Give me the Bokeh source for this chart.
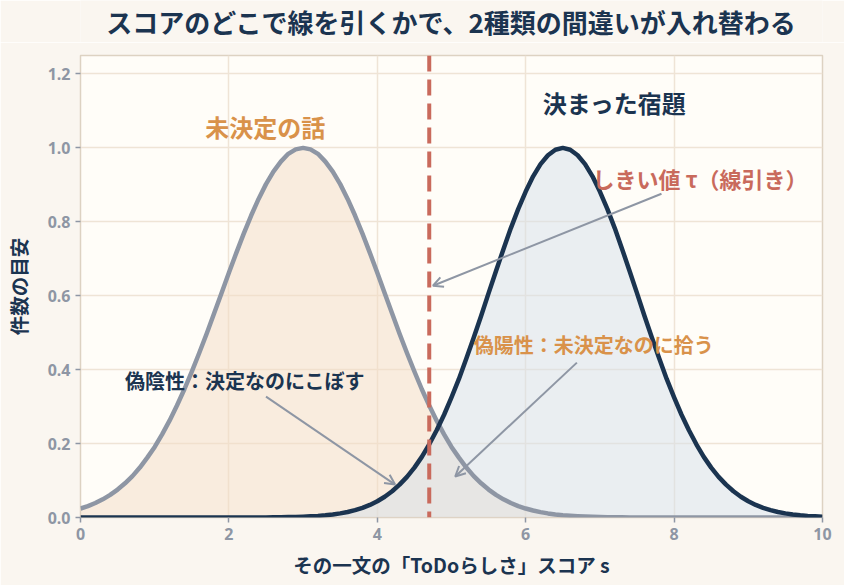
from bokeh.plotting import figure
from bokeh.layouts import column
from bokeh.models import Span, Label, Arrow, OpenHead, Range1d, FixedTicker, CustomJSTickFormatter
from bokeh.embed import file_html
from bokeh.resources import INLINE

# ---- data ----
score = [round(0.1 * i, 1) for i in range(101)]   # x positions 0.0 ... 10.0
undecided = [  # "未決定の話" curve (peak at 3)
    0.0243, 0.0310, 0.0392, 0.0492, 0.0612, 0.0756, 0.0926, 0.112, 0.135, 0.162,
    0.191, 0.225, 0.262, 0.303, 0.347, 0.395, 0.445, 0.497, 0.552, 0.607,
    0.662, 0.716, 0.768, 0.817, 0.862, 0.902, 0.936, 0.963, 0.984, 0.996,
    1.000,
    0.996, 0.984, 0.963, 0.936, 0.902, 0.862, 0.817, 0.768, 0.716, 0.662,
    0.607, 0.552, 0.497, 0.445, 0.395, 0.347, 0.303, 0.262, 0.225, 0.191,
    0.162, 0.135, 0.112, 0.0926, 0.0756, 0.0612, 0.0492, 0.0392, 0.0310, 0.0243,
    0.0189, 0.0145, 0.0111, 0.0084, 0.0063, 0.0047, 0.0035, 0.0026, 0.0019, 0.0013,
    0.0010, 0.0007, 0.0005, 0.0003, 0.0002,
    0.0, 0.0, 0.0, 0.0, 0.0, 0.0, 0.0, 0.0, 0.0, 0.0,
    0.0, 0.0, 0.0, 0.0, 0.0, 0.0, 0.0, 0.0, 0.0, 0.0,
    0.0, 0.0, 0.0, 0.0, 0.0]
decided = [  # "決まった宿題" curve (peak at 6.5)
    0.0, 0.0, 0.0, 0.0, 0.0, 0.0, 0.0, 0.0, 0.0, 0.0,
    0.0, 0.0, 0.0, 0.0, 0.0, 0.0, 0.0, 0.0, 0.0, 0.0,
    0.0, 0.0, 0.0,
    0.0001, 0.0002, 0.0003, 0.0005, 0.0007, 0.0011, 0.0015, 0.0022, 0.0031, 0.0043,
    0.0060, 0.0082, 0.0111, 0.0149, 0.0198, 0.0261, 0.0340, 0.0439, 0.0561, 0.0710,
    0.0889, 0.110, 0.135, 0.164, 0.198, 0.236, 0.278, 0.325, 0.375, 0.430,
    0.487, 0.546, 0.607, 0.667, 0.726, 0.783, 0.835, 0.882, 0.923, 0.956,
    0.980, 0.995, 1.000,
    0.995, 0.980, 0.956, 0.923, 0.882, 0.835, 0.783, 0.726, 0.667, 0.607,
    0.546, 0.487, 0.430, 0.375, 0.325, 0.278, 0.236, 0.198, 0.164, 0.135,
    0.110, 0.0889, 0.0710, 0.0561, 0.0439, 0.0340, 0.0261, 0.0198, 0.0149, 0.0111,
    0.0082, 0.0060, 0.0043, 0.0031, 0.0022]
threshold = 4.7
x_ticks = [0, 2, 4, 6, 8, 10]
y_ticks = [0.0, 0.2, 0.4, 0.6, 0.8, 1.0, 1.2]

title_text = "スコアのどこで線を引くかで、2種類の間違いが入れ替わる"
x_label = "その一文の「ToDoらしさ」スコア s"
y_label = "件数の目安"
label_undecided = "未決定の話"
label_decided = "決まった宿題"
label_threshold = "しきい値 τ（線引き）"
label_fp = "偽陽性：未決定なのに拾う"
label_fn = "偽陰性：決定なのにこぼす"

FONT = "Noto Sans CJK JP"
NAVY = "#1b3450"
GRAY = "#8e96a4"
ORANGE = "#d9924a"
RED = "#c96a5c"
PAGE_BG = "#faf6f0"

W = 844
TITLE_H = 42
MAIN_H = 585 - TITLE_H

# ---- title strip ----
t = figure(width=W, height=TITLE_H, x_range=Range1d(0, 1), y_range=Range1d(0, 1),
           output_backend="svg", toolbar_location=None, x_axis_type=None, y_axis_type=None,
           min_border=0, min_border_left=0, min_border_right=0,
           min_border_top=0, min_border_bottom=0,
           background_fill_color=PAGE_BG, border_fill_color=PAGE_BG)
t.outline_line_color = None
t.grid.visible = False
t.add_layout(Label(x=0.5, y=0.5, text=title_text, text_color=NAVY, text_font=FONT,
                   text_font_size="26px", text_font_style="bold",
                   text_align="center", text_baseline="middle",
                   x_offset=0, y_offset=0))

# ---- main chart ----
p = figure(width=W, height=MAIN_H, x_range=Range1d(0, 10), y_range=Range1d(0, 1.25),
           output_backend="svg", toolbar_location=None,
           min_border_left=79, min_border_right=22,
           min_border_top=55 - TITLE_H, min_border_bottom=68,
           background_fill_color="#fffdf8", border_fill_color=PAGE_BG)

p.outline_line_color = "#ddd2c2"
p.outline_line_width = 1.5
p.grid.grid_line_color = "#efe4d6"
p.grid.grid_line_width = 1.5
p.xaxis.ticker = FixedTicker(ticks=x_ticks)
p.yaxis.ticker = FixedTicker(ticks=y_ticks)
p.yaxis.formatter = CustomJSTickFormatter(code="return tick.toFixed(1);")
for ax in (p.xaxis, p.yaxis):
    ax.axis_line_color = None
    ax.major_tick_line_color = GRAY
    ax.major_tick_line_width = 1.5
    ax.major_tick_out = 5
    ax.major_tick_in = 0
    ax.minor_tick_line_color = None
    ax.major_label_text_font = "Noto Sans"
    ax.major_label_text_font_size = "16px"
    ax.major_label_text_font_style = "bold"
    ax.major_label_text_color = GRAY
    ax.axis_label_text_font = FONT
    ax.axis_label_text_font_size = "19.5px"
    ax.axis_label_text_font_style = "bold"
    ax.axis_label_text_color = NAVY
p.xaxis.axis_label = x_label
p.yaxis.axis_label = y_label
p.xaxis.axis_label_standoff = 7
p.yaxis.axis_label_standoff = 12

p.varea(x=score, y1=0, y2=undecided, fill_color="#f3dcc3", fill_alpha=0.5)
p.varea(x=score, y1=0, y2=decided, fill_color="#d6dfe9", fill_alpha=0.5)
p.line(score, undecided, line_color=GRAY, line_width=4.5, line_join="round")
p.line(score, decided, line_color=NAVY, line_width=4.5, line_join="round")

p.add_layout(Span(location=threshold, dimension="height", line_color=RED,
                  line_width=4, line_dash="16 8"))

def lab(x, y, text, color, size, align="left"):
    p.add_layout(Label(x=x, y=y, text=text, text_color=color, text_font=FONT,
                       text_font_size=size, text_font_style="bold",
                       text_align=align, text_baseline="middle"))

lab(2.49, 1.057, label_undecided, ORANGE, "24px", "center")
lab(7.2, 1.124, label_decided, NAVY, "24px", "center")
lab(6.9, 0.919, label_threshold, RED, "22px")
lab(5.3, 0.468, label_fp, ORANGE, "20px")
lab(0.6, 0.37, label_fn, NAVY, "20px")

arrows_start = [(7.83, 0.876), (6.69, 0.419), (2.5, 0.327)]
arrows_end = [(4.75, 0.627), (5.05, 0.111), (4.24, 0.089)]
for (xs, ys), (xe, ye) in zip(arrows_start, arrows_end):
    p.add_layout(Arrow(end=OpenHead(size=10, line_color=GRAY, line_width=2),
                       x_start=xs, y_start=ys, x_end=xe, y_end=ye,
                       line_color=GRAY, line_width=2))

layout = column(t, p, spacing=0)
open("out.html", "w").write(file_html(layout, INLINE))
